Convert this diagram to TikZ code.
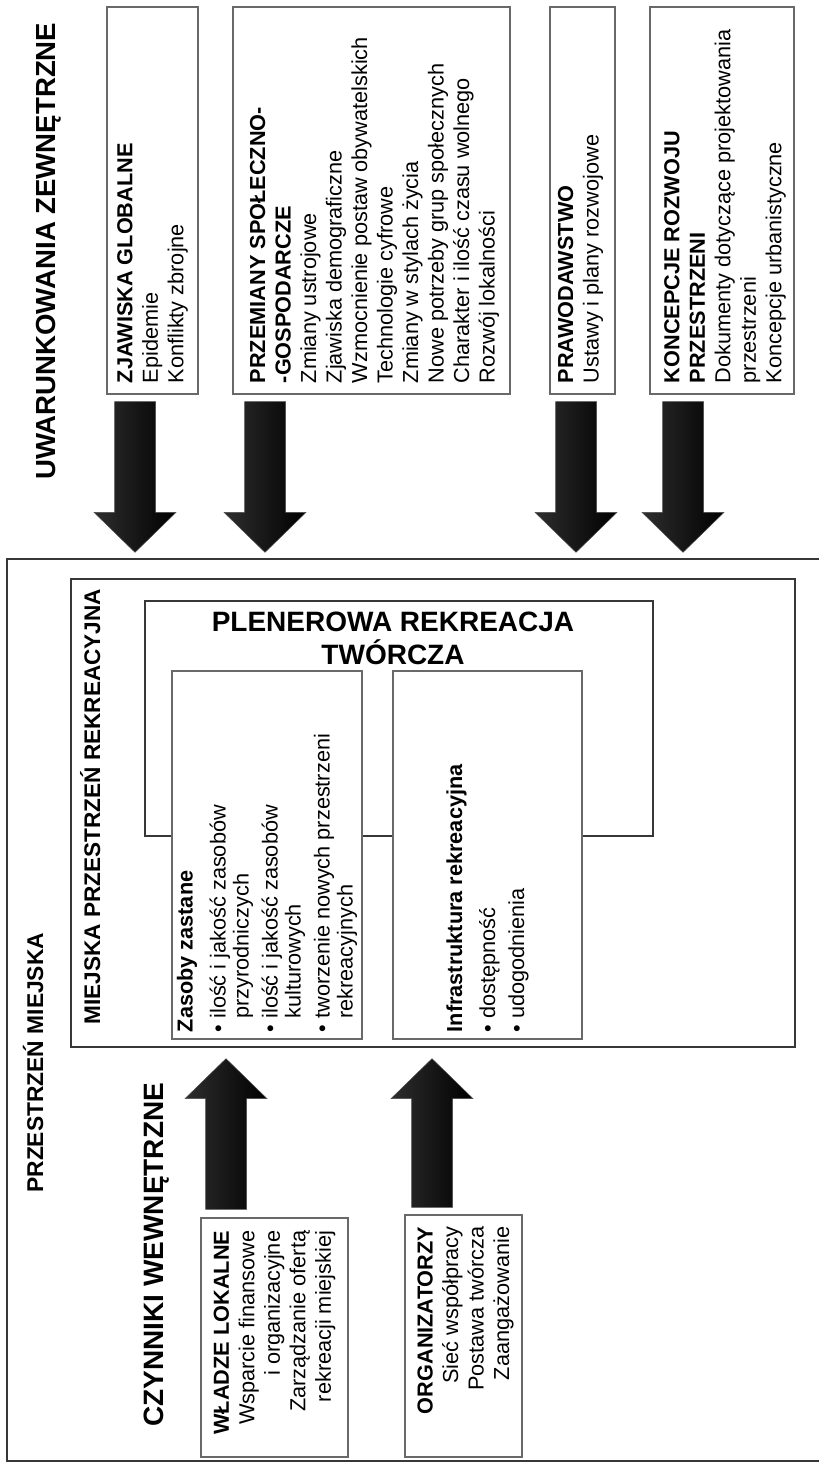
\documentclass[tikz,border=0pt]{standalone}
\usepackage{fontspec}
\setmainfont{Liberation Sans}
\usetikzlibrary{calc,fit,positioning}
\definecolor{boxgray}{RGB}{105,105,105}
\definecolor{framegray}{RGB}{55,55,55}

\newcommand\itemdot{\textbullet\ }
\newcommand\itemgap{\phantom{\textbullet\ }}
% block arrow from base #1 to tip #2
\newcommand\blockarrow[2]{%
  \coordinate (hb) at ($(#2)!20pt!(#1)$);
  \path[bigarrow]
    ($(#1)!10.25pt!90:(#2)$) -- ($(hb)!10.25pt!-90:(#1)$)
    -- ($(hb)!20.5pt!-90:(#1)$) -- (#2)
    -- ($(hb)!20.5pt!90:(#1)$) -- ($(hb)!10.25pt!90:(#1)$)
    -- ($(#1)!10.25pt!-90:(#2)$) -- cycle;}

\begin{document}
\begin{tikzpicture}[
  x={(0.5pt,0)},
  y={(0,-0.5pt)},
  frame/.style={draw=framegray, line width=.65pt, inner sep=0pt},
  panel/.style={draw=boxgray, line width=.6pt, fill=white, inner sep=0pt},
  body/.style={
    rotate=90,
    inner sep=0pt,
    font=\fontsize{10.85}{12.75}\selectfont
  },
  listbody/.style={body, align=left, font=\fontsize{10.85}{11.5}\selectfont},
  bigtitle/.style={
    rotate=90,
    inner sep=0pt,
    anchor=base west,
    font=\fontsize{13.8}{16}\selectfont\bfseries
  },
  areatitle/.style={bigtitle, font=\fontsize{11.4}{13}\selectfont\bfseries},
  bigarrow/.style={
    draw=black!70,
    line width=.25pt,
    left color=black!82,
    right color=black
  }
]
\useasboundingbox (0,0) rectangle (819,1462);
\clip (0,0) rectangle (819,1462);

% external conditions
\node[bigtitle] (ext) at (55,480) {UWARUNKOWANIA ZEWNĘTRZNE};

\node[panel, fit={(107,7) (198,394)}] (zj) {};
\node[panel, fit={(233,7) (510,394)}] (pz) {};
\node[panel, fit={(550,7) (615,394)}] (pw) {};
\node[panel, fit={(650,7) (794,394)}] (kc) {};

\node[body, align=left, anchor=west] (zjt) at ($(zj.south)+(0,-11)$)
  {\textbf{ZJAWISKA GLOBALNE}\\Epidemie\\Konflikty zbrojne};
\node[body, align=left, anchor=west] (pzt) at ($(pz.south)+(3,-11)$)
  {\textbf{PRZEMIANY SPOŁECZNO-}\\\textbf{-GOSPODARCZE}\\Zmiany ustrojowe\\
   Zjawiska demograficzne\\Wzmocnienie postaw obywatelskich\\Technologie cyfrowe\\
   Zmiany w stylach życia\\Nowe potrzeby grup społecznych\\
   Charakter i ilość czasu wolnego\\Rozwój lokalności};
\node[body, align=left, anchor=west] (pwt) at ($(pw.south)+(-2,-11)$)
  {\textbf{PRAWODAWSTWO}\\Ustawy i plany rozwojowe};
\node[body, align=left, anchor=west] (kct) at ($(kc.south)+(3,-11)$)
  {\textbf{KONCEPCJE ROZWOJU}\\\textbf{PRZESTRZENI}\\
   Dokumenty dotyczące projektowania\\przestrzeni\\Koncepcje urbanistyczne};

% urban space
\node[frame, fit={(7,559) (840,1461)}] (city) {};
\node[areatitle] (cityt) at (43,1193) {PRZESTRZEŃ MIEJSKA};

\node[frame, fit={(71,579) (795,1047)}] (rec) {};
\node[areatitle, font=\fontsize{11.3}{13}\selectfont\bfseries] (rect)
  at (100,1025) {MIEJSKA PRZESTRZEŃ REKREACYJNA};

\node[frame, fit={(145,601) (653,836)}] (pl) {};
\node[
  inner sep=0pt,
  align=center,
  anchor=north,
  font=\fontsize{14}{16.5}\selectfont\bfseries
] (plt) at ($(pl.north)+(-6,11)$) {PLENEROWA REKREACJA\\TWÓRCZA};

\node[panel, fit={(172,671) (362,1039)}] (zs) {};
\node[panel, fit={(393,671) (582,1039)}] (inf) {};

\node[listbody, anchor=west] (zst) at ($(zs.south)+(0,-7)$)
  {\textbf{Zasoby zastane}\\[5pt]
   \itemdot ilość i jakość zasobów\\\itemgap przyrodniczych\\[3pt]
   \itemdot ilość i jakość zasobów\\\itemgap kulturowych\\[3pt]
   \itemdot tworzenie nowych przestrzeni\\\itemgap rekreacyjnych};
\node[listbody, anchor=west] (inft) at ($(inf.south)+(0,-7)$)
  {\textbf{Infrastruktura rekreacyjna}\\[5pt]
   \itemdot dostępność\\[3pt]
   \itemdot udogodnienia};

% internal factors
\node[bigtitle, font=\fontsize{14}{16}\selectfont\bfseries] (int) at (163,1427)
  {CZYNNIKI WEWNĘTRZNE};

\node[panel, fit={(201,1218) (348,1457)}] (wl) {};
\node[panel, fit={(405,1215) (522,1457)}] (org) {};

\node[body, align=right, anchor=east] (wlt) at ($(wl.north)+(0,13)$)
  {\textbf{WŁADZE LOKALNE}\\Wsparcie finansowe\\i organizacyjne\\
   Zarządzanie ofertą\\rekreacji miejskiej};
\node[body, align=right, anchor=east] (orgt) at ($(org.north)+(2,12)$)
  {\textbf{ORGANIZATORZY}\\Sieć współpracy\\Postawa twórcza\\Zaangażowanie};

% arrows
\coordinate (c1) at (135,0);
\coordinate (c2) at (265,0);
\coordinate (c3) at (576,0);
\coordinate (c4) at (683,0);
\coordinate (c5) at (226,0);
\coordinate (c6) at (432,0);

\blockarrow{$(zj.south -| c1)+(0,7)$}{$(city.north -| c1)+(0,-6)$}
\blockarrow{$(pz.south -| c2)+(0,7)$}{$(city.north -| c2)+(0,-6)$}
\blockarrow{$(pw.south -| c3)+(0,7)$}{$(city.north -| c3)+(0,-6)$}
\blockarrow{$(kc.south -| c4)+(0,7)$}{$(city.north -| c4)+(0,-6)$}
\blockarrow{$(wl.north -| c5)+(0,-8)$}{$(rec.south -| c5)+(0,11)$}
\blockarrow{$(org.north -| c6)+(0,-7)$}{$(rec.south -| c6)+(0,11)$}
\end{tikzpicture}
\end{document}
